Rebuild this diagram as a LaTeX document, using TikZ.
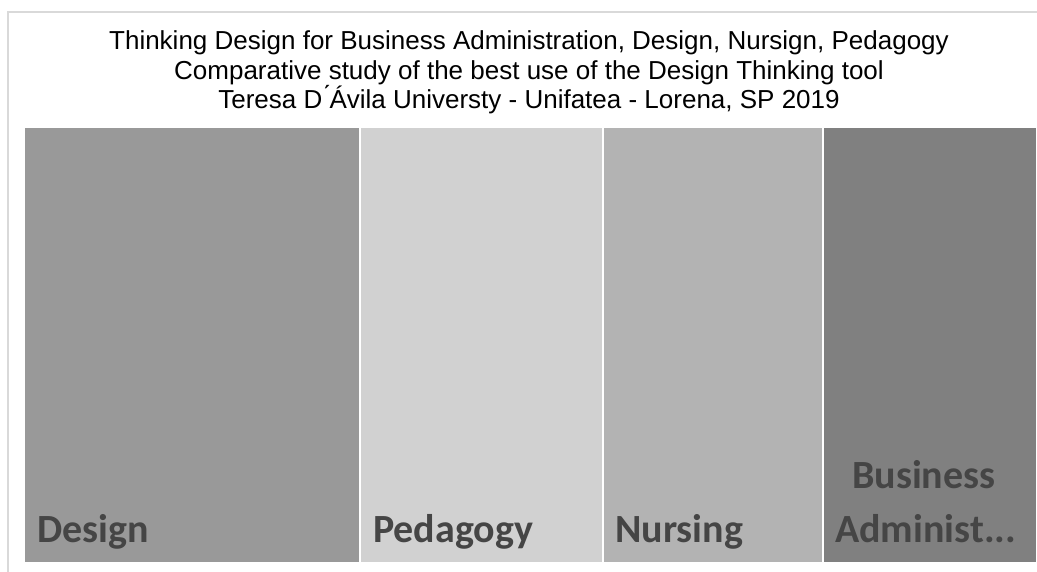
\documentclass[tikz,border=0pt]{standalone}
\usepackage{fontspec}
\setmainfont{Liberation Sans}
\newfontfamily\labelfont{Carlito}
\definecolor{cdesign}{HTML}{999999}
\definecolor{cped}{HTML}{D1D1D1}
\definecolor{cnurs}{HTML}{B3B3B3}
\definecolor{cbus}{HTML}{808080}
\definecolor{ctext}{HTML}{454545}
\definecolor{cframe}{HTML}{D9D9D9}
\tikzset{
  cell/.style={draw=white, line width=2.4pt, inner sep=0pt, anchor=north west, minimum height=436pt},
  lbl/.style={font=\labelfont\bfseries\fontsize{40}{48}\selectfont, text=ctext, inner sep=0pt, anchor=base west},
  ttl/.style={font=\fontsize{26}{30}\selectfont, inner sep=0pt, anchor=base, text=black}
}
\begin{document}
\begin{tikzpicture}[x=1pt,y=-1pt]
\useasboundingbox (0,0) rectangle (1037,571);
\clip (0,0) rectangle (1037,571);
\fill[white] (0,0) rectangle (1037,571);
\draw[cframe, line width=1.6pt] (8,600) -- (8,12) -- (1060,12);
% cells
\node[cell, fill=cdesign, minimum width=336pt] (design) at (22.5,125.5) {};
\node[cell, fill=cped, minimum width=243pt] (ped) at (358.5,125.5) {};
\node[cell, fill=cnurs, minimum width=220pt] (nurs) at (601.5,125.5) {};
\node[cell, fill=cbus, minimum width=214pt] (bus) at (821.5,125.5) {};
% labels
\node[lbl] (ldesign) at (37,542) {Design};
\node[lbl] (lped) at (373,542) {Pedagogy};
\node[lbl] (lnurs) at (615,542) {Nursing};
\node[lbl] (lbus1) at (852,488) {Business};
\node[lbl] (lbus2) at (835,542) {Administ...};
% title
\node[ttl] (t1) at (529,49) {Thinking Design for Business Administration, Design, Nursign, Pedagogy};
\node[ttl] (t2) at (529,79) {Comparative study of the best use of the Design Thinking tool};
\node[ttl] (t3) at (529,108) {Teresa D\'{}\'Avila Universty - Unifatea - Lorena, SP 2019};
\end{tikzpicture}
\end{document}
